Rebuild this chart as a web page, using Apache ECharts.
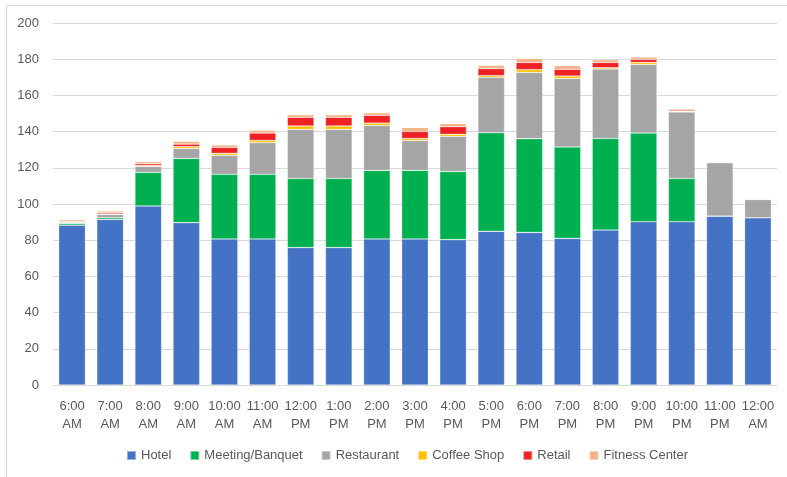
<!DOCTYPE html>
<html>
<head>
<meta charset="utf-8">
<script src="https://cdn.jsdelivr.net/npm/echarts@6/dist/echarts.min.js"></script>
<style>
  html, body { margin: 0; padding: 0; background: #fff; }
  #frame { position: absolute; left: 6px; top: 5px; width: 781px; height: 472px;
           border-top: 1px solid #d9d9d9; border-left: 1px solid #d9d9d9; }
  #chart { position: absolute; left: 0; top: 0; width: 787px; height: 477px; }
</style>
</head>
<body>
<div id="frame"></div>
<div id="chart"></div>
<script>
// 时段
const hours = ["6:00\nAM", "7:00\nAM", "8:00\nAM", "9:00\nAM", "10:00\nAM", "11:00\nAM",
  "12:00\nPM", "1:00\nPM", "2:00\nPM", "3:00\nPM", "4:00\nPM", "5:00\nPM", "6:00\nPM",
  "7:00\nPM", "8:00\nPM", "9:00\nPM", "10:00\nPM", "11:00\nPM", "12:00\nAM"];

const hotel = [88.3, 91.5, 98.9, 89.7, 80.7, 80.7, 75.9, 75.9, 80.7, 80.7, 80.3, 84.9, 84.3, 81.0, 85.6, 90.2, 90.2, 93.2, 92.4];
const meeting = [1.0, 0.9, 18.6, 35.5, 35.7, 35.7, 38.2, 38.2, 37.9, 37.9, 37.7, 54.5, 51.8, 50.5, 50.6, 49.0, 23.9, 0.2, 0];
const restaurant = [0.3, 1.8, 3.3, 5.5, 10.5, 17.5, 27.1, 27.1, 24.8, 16.5, 19.4, 30.6, 36.6, 37.9, 38.4, 37.9, 36.7, 29.4, 10.1];
const coffee = [0.2, 0.2, 0.5, 1.0, 1.1, 1.2, 1.9, 1.9, 1.3, 1.1, 1.1, 0.9, 1.5, 1.3, 0.7, 1.1, 0.4, 0.1, 0.3];
const retail = [0.4, 0.7, 1.0, 1.4, 3.3, 4.1, 4.8, 4.8, 4.3, 3.9, 4.2, 3.9, 4.0, 3.7, 2.9, 1.7, 0.7, 0.2, 0];
const fitness = [1.0, 1.0, 1.1, 1.5, 1.3, 1.5, 1.4, 1.4, 1.4, 2.1, 1.7, 1.8, 2.2, 2.0, 1.5, 1.3, 0.7, 0.3, 0];

const seriesNames = ["Hotel", "Meeting/Banquet", "Restaurant", "Coffee Shop", "Retail", "Fitness Center"];
const seriesColors = ["#4472c4", "#00b050", "#a5a5a5", "#ffc000", "#ee2124", "#f4b183"];
const seriesData = [hotel, meeting, restaurant, coffee, retail, fitness];

const textColor = "#595959";
const fontFamily = "Liberation Sans, Arial, sans-serif";

const chartInstance = echarts.init(document.getElementById("chart"));

const option = {
  animation: false,
  textStyle: { fontFamily: fontFamily },
  grid: {
    left: 53,
    right: 10,
    top: 23,
    bottom: 92,
  },
  legend: {
    bottom: 10,
    left: 121,
    itemWidth: 9,
    itemHeight: 9,
    itemGap: 18,
    icon: "rect",
    textStyle: { color: textColor, fontSize: 13, fontFamily: fontFamily },
    data: seriesNames,
  },
  xAxis: {
    type: "category",
    data: hours,
    axisLine: { lineStyle: { color: "#d9d9d9" } },
    axisTick: { show: false },
    axisLabel: {
      color: textColor,
      fontSize: 13,
      lineHeight: 18,
      margin: 12,
      interval: 0,
    },
  },
  yAxis: {
    type: "value",
    min: 0,
    max: 200,
    interval: 20,
    axisLine: { show: false },
    axisTick: { show: false },
    axisLabel: { color: textColor, fontSize: 13, margin: 14 },
    splitLine: { lineStyle: { color: "#d9d9d9", width: 1 } },
  },
  series: seriesNames.map((name, i) => ({
    name: name,
    type: "bar",
    stack: "total",
    barWidth: "70%",
    data: seriesData[i],
    itemStyle: {
      color: seriesColors[i],
      borderColor: "rgba(255,255,255,0.45)",
      borderWidth: 0.6,
    },
  })),
};

chartInstance.setOption(option);
</script>
</body>
</html>
